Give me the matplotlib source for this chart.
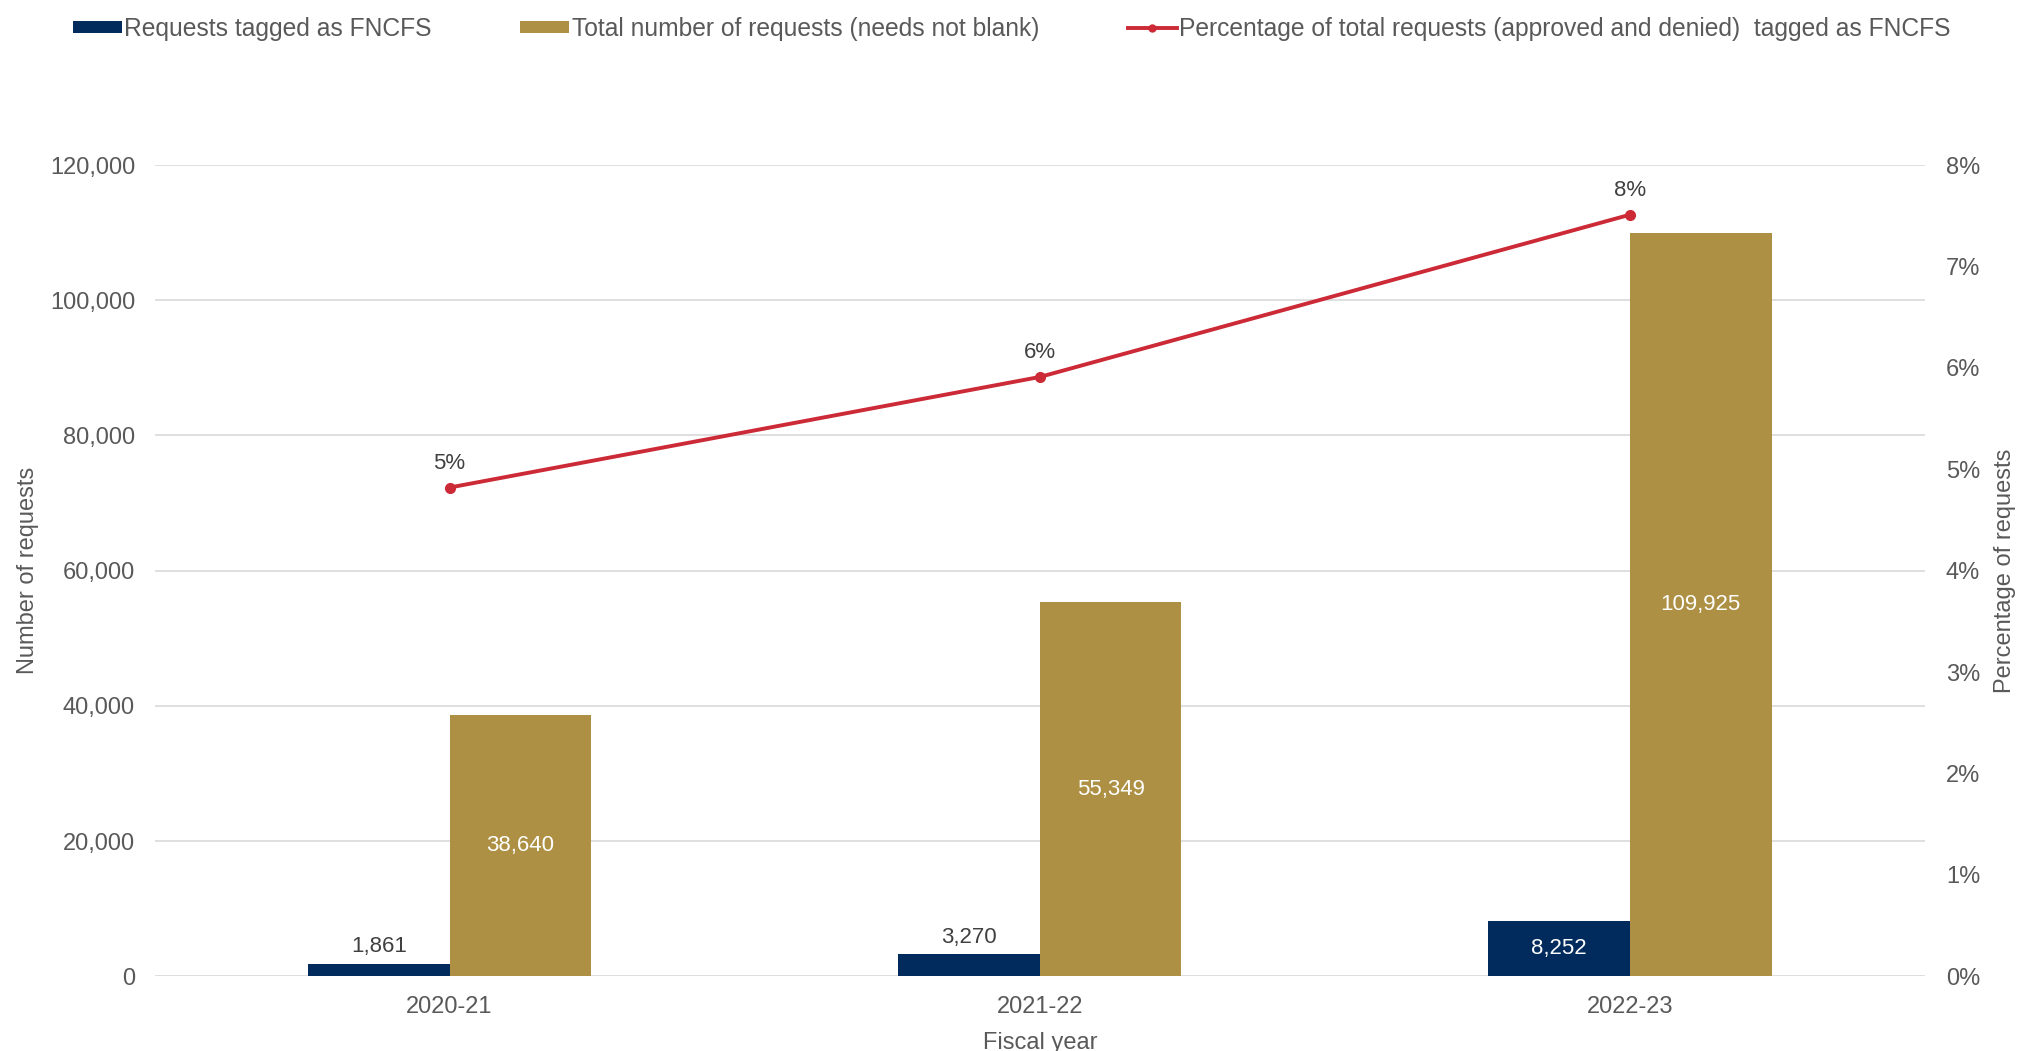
import matplotlib
matplotlib.use("Agg")
import matplotlib.pyplot as plt
import numpy as np
from matplotlib.lines import Line2D
from matplotlib.patches import Patch

categories = ["2020-21", "2021-22", "2022-23"]
fncfs = [1861, 3270, 8252]
total = [38640, 55349, 109925]
pct = [4.82, 5.91, 7.51]
pct_labels = ["5%", "6%", "8%"]
left_ticks = [0, 20000, 40000, 60000, 80000, 100000, 120000]
right_ticks = [0, 1, 2, 3, 4, 5, 6, 7, 8]

NAVY = "#002b5c"
GOLD = "#ad9043"
RED = "#cc2a36"
TXT = "#595959"
GRID = "#d9d9d9"

plt.rcParams['font.family'] = ['Liberation Sans', 'DejaVu Sans']

fig = plt.figure(figsize=(20.2, 10.51), dpi=100)
ax = fig.add_axes([0.0765, 0.071, 0.8765, 0.772])
ax2 = ax.twinx()

x = np.arange(len(categories))
w = 0.24
ax.bar(x - w / 2, fncfs, w, color=NAVY, zorder=3)
ax.bar(x + w / 2, total, w, color=GOLD, zorder=3)

ax.set_xlim(-0.5, 2.5)
ax.set_ylim(0, 120000)
ax.set_yticks(left_ticks)
ax.set_yticklabels([f"{v:,}" for v in left_ticks])
ax.set_xticks(x)
ax.set_xticklabels(categories)
ax.grid(axis='y', color=GRID, linewidth=1.2, zorder=0)
ax.set_axisbelow(True)
for s in ax.spines.values():
    s.set_visible(False)
for s in ax2.spines.values():
    s.set_visible(False)
ax.tick_params(axis='both', length=0, labelsize=17, colors=TXT, pad=14)

ax2.set_ylim(0, 8)
ax2.set_yticks(right_ticks)
ax2.set_yticklabels([f"{v}%" for v in right_ticks])
ax2.tick_params(axis='y', length=0, labelsize=17, colors=TXT, pad=15)
ax2.plot(x, pct, color=RED, linewidth=2.8, marker='o', markersize=7, zorder=5)
for xi, p, lab in zip(x, pct, pct_labels):
    ax2.annotate(lab, (xi, p), xytext=(0, 10), textcoords='offset points',
                 ha='center', va='bottom', fontsize=16, color="#404040")

# bar labels
for xi, v in zip(x, fncfs):
    if v > 6000:
        ax.text(xi - w / 2, v / 2, f"{v:,}", ha='center', va='center',
                fontsize=16, color='white')
    else:
        ax.text(xi - w / 2, v + 1000, f"{v:,}", ha='center', va='bottom',
                fontsize=16, color="#404040")
for xi, v in zip(x, total):
    ax.text(xi + w / 2, v / 2, f"{v:,}", ha='center', va='center',
            fontsize=16, color='white')

ax.set_ylabel("Number of requests", fontsize=17, color=TXT, labelpad=8)
ax2.set_ylabel("Percentage of requests", fontsize=17, color=TXT, labelpad=10)
ax.set_xlabel("Fiscal year", fontsize=17, color=TXT, labelpad=10)

handles = [
    Patch(facecolor=NAVY, edgecolor='none'),
    Patch(facecolor=GOLD, edgecolor='none'),
    Line2D([0], [0], color=RED, linewidth=2.8, marker='o', markersize=5),
]
labels = [
    "Requests tagged as FNCFS",
    "Total number of requests (needs not blank)",
    "Percentage of total requests (approved and denied)  tagged as FNCFS",
]
leg = fig.legend(handles, labels, loc='upper left', bbox_to_anchor=(0.025, 1.005),
                 ncol=3, frameon=False, fontsize=17.7, handlelength=2.0,
                 handleheight=0.4, handletextpad=0.1, columnspacing=3.6)
for t in leg.get_texts():
    t.set_color(TXT)

fig.savefig("out.png", dpi=100)
